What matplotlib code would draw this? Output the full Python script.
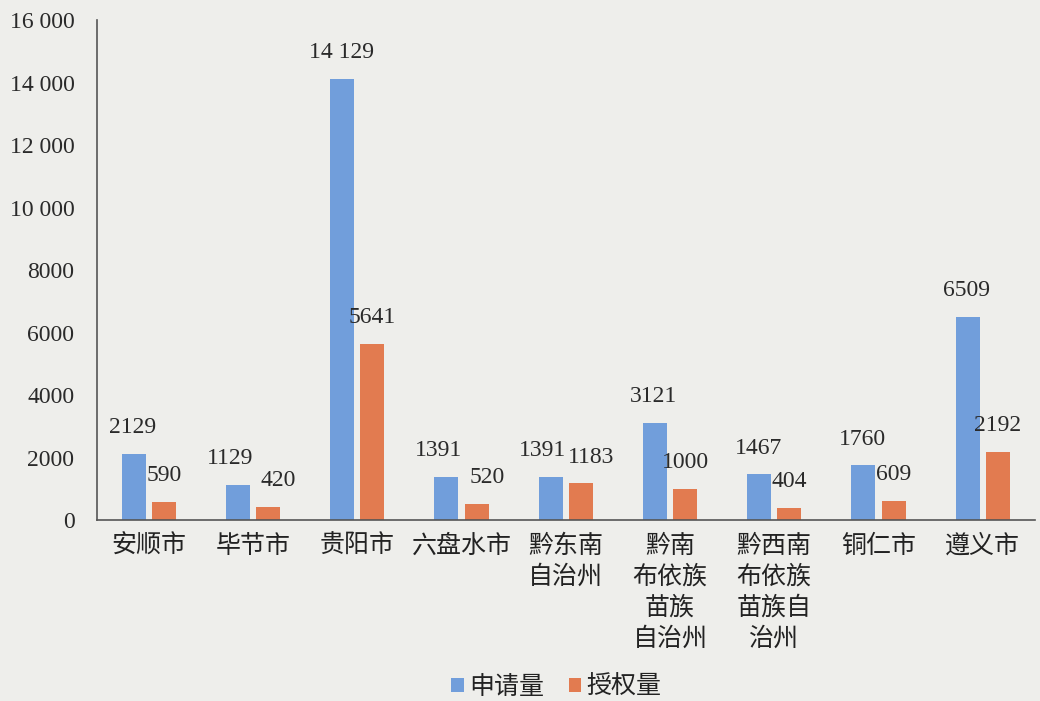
import matplotlib
matplotlib.use('Agg')
import matplotlib.pyplot as plt
import numpy as np

plt.rcParams['font.family'] = ['Noto Sans CJK SC', 'DejaVu Sans']

cities = ['安顺市', '毕节市', '贵阳市', '六盘水市', '黔东南\n自治州',
          '黔南\n布依族\n苗族\n自治州', '黔西南\n布依族\n苗族自\n治州', '铜仁市', '遵义市']
applied = [2129, 1129, 14129, 1391, 1391, 3121, 1467, 1760, 6509]
granted = [590, 420, 5641, 520, 1183, 1000, 404, 609, 2192]
yticks = [0, 2000, 4000, 6000, 8000, 10000, 12000, 14000, 16000]


def fmt(v):
    # Chinese print style: group thousands only from 5 digits up
    return f'{v:,}'.replace(',', ' ') if v >= 10000 else str(v)


bg = '#eeeeeb'
blue = '#719edb'
orange = '#e27b50'

fig = plt.figure(figsize=(10.4, 7.01), dpi=100, facecolor=bg)
ax = fig.add_axes([0.093, 0.258, 0.902, 0.713], facecolor=bg)

x = np.arange(len(cities))
w = 0.23
off = 0.145
ax.bar(x - off, applied, w, color=blue, label='申请量')
ax.bar(x + off, granted, w, color=orange, label='授权量')

serif = 'Liberation Serif'
for xi, a, g in zip(x, applied, granted):
    # spread the two labels apart when they sit at about the same height
    crowded = abs(a - g) < 1000
    ax.text(xi - off - (0.08 if crowded else 0.01), a + 500, fmt(a), ha='center', va='bottom',
            family=serif, fontsize=17, color='#2a2a2a')
    ax.text(xi + off + (0.1 if crowded else 0.0), g + 500, fmt(g), ha='center', va='bottom',
            family=serif, fontsize=17, color='#2a2a2a')

ax.set_xlim(-0.5, len(cities) - 0.5)
ax.set_ylim(0, 16000)
ax.set_yticks(yticks)
ax.set_yticklabels([fmt(v) for v in yticks], family=serif, fontsize=17, color='#2a2a2a')
ax.set_xticks(x)
ax.set_xticklabels(cities, fontsize=18, color='#222222', linespacing=1.25)
ax.tick_params(axis='both', length=0)
ax.tick_params(axis='y', pad=16)
ax.tick_params(axis='x', pad=9)

for side in ['top', 'right']:
    ax.spines[side].set_visible(False)
for side in ['left', 'bottom']:
    ax.spines[side].set_color('#555555')
    ax.spines[side].set_linewidth(1.2)

fig.legend(loc='lower center', bbox_to_anchor=(0.535, -0.03), ncol=2, frameon=False,
           fontsize=18, handlelength=0.5, handleheight=0.5, handletextpad=0.2,
           columnspacing=1.0, labelcolor='#222222')

fig.savefig('out.png', dpi=100, facecolor=bg)
